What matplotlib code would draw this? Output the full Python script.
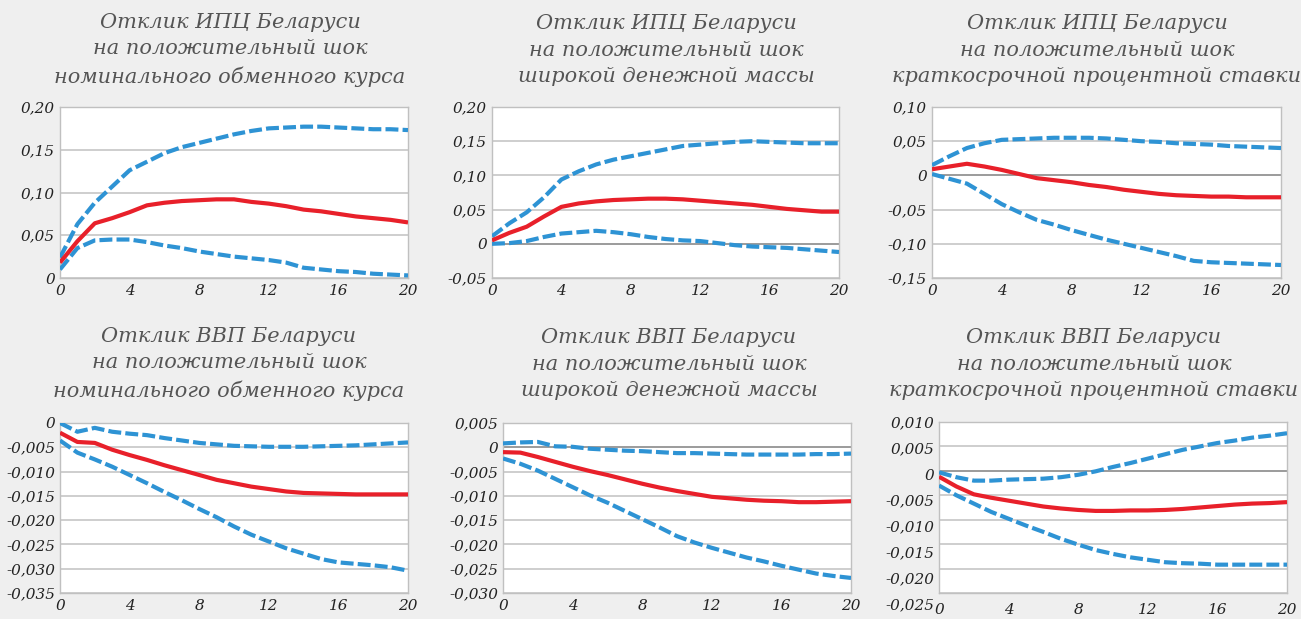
import matplotlib
matplotlib.use("Agg")
import matplotlib.pyplot as plt
from matplotlib.transforms import ScaledTranslation


W, H = 1301, 619

QUARTERS = list(range(21))

# ИПЦ: шок номинального обменного курса
cpi_fx_mid = [0.018, 0.043, 0.064, 0.070, 0.077, 0.085, 0.088, 0.090, 0.091, 0.092, 0.092,
              0.089, 0.087, 0.084, 0.080, 0.078, 0.075, 0.072, 0.070, 0.068, 0.065]
cpi_fx_hi = [0.024, 0.063, 0.088, 0.107, 0.126, 0.136, 0.146, 0.153, 0.158, 0.163, 0.168,
             0.172, 0.175, 0.176, 0.177, 0.177, 0.176, 0.175, 0.174, 0.174, 0.173]
cpi_fx_lo = [0.010, 0.035, 0.044, 0.045, 0.045, 0.042, 0.038, 0.035, 0.031, 0.028, 0.025,
             0.023, 0.021, 0.018, 0.012, 0.010, 0.008, 0.007, 0.005, 0.004, 0.003]

# ИПЦ: шок широкой денежной массы
cpi_m_mid = [0.005, 0.016, 0.025, 0.040, 0.054, 0.059, 0.062, 0.064, 0.065, 0.066, 0.066,
             0.065, 0.063, 0.061, 0.059, 0.057, 0.054, 0.051, 0.049, 0.047, 0.047]
cpi_m_hi = [0.011, 0.030, 0.046, 0.068, 0.094, 0.106, 0.116, 0.123, 0.128, 0.133, 0.138,
            0.143, 0.145, 0.147, 0.149, 0.150, 0.149, 0.148, 0.147, 0.147, 0.147]
cpi_m_lo = [0.000, 0.001, 0.004, 0.010, 0.015, 0.017, 0.019, 0.017, 0.014, 0.010, 0.007,
            0.005, 0.004, 0.001, -0.002, -0.004, -0.005, -0.006, -0.008, -0.010, -0.012]

# ИПЦ: шок краткосрочной процентной ставки
cpi_r_mid = [0.009, 0.013, 0.017, 0.013, 0.008, 0.002, -0.004, -0.007, -0.010, -0.014, -0.017,
             -0.021, -0.024, -0.027, -0.029, -0.030, -0.031, -0.031, -0.032, -0.032, -0.032]
cpi_r_hi = [0.015, 0.028, 0.040, 0.047, 0.052, 0.053, 0.054, 0.055, 0.055, 0.055, 0.054,
            0.052, 0.050, 0.049, 0.047, 0.046, 0.045, 0.043, 0.042, 0.041, 0.040]
cpi_r_lo = [0.002, -0.005, -0.012, -0.027, -0.042, -0.054, -0.065, -0.072, -0.080, -0.087, -0.094,
            -0.100, -0.106, -0.112, -0.118, -0.125, -0.127, -0.128, -0.129, -0.130, -0.131]

# ВВП: шок номинального обменного курса
gdp_fx_mid = [-0.0020, -0.0039, -0.0041, -0.0055, -0.0066, -0.0076, -0.0087, -0.0097, -0.0107,
              -0.0117, -0.0124, -0.0131, -0.0136, -0.0141, -0.0144, -0.0145, -0.0146, -0.0147,
              -0.0147, -0.0147, -0.0147]
gdp_fx_hi = [0.0000, -0.0018, -0.0010, -0.0018, -0.0022, -0.0025, -0.0031, -0.0036, -0.0041,
             -0.0044, -0.0047, -0.0048, -0.0049, -0.0049, -0.0049, -0.0048, -0.0047, -0.0046,
             -0.0044, -0.0042, -0.0040]
gdp_fx_lo = [-0.0036, -0.0061, -0.0075, -0.0090, -0.0107, -0.0124, -0.0142, -0.0159, -0.0177,
             -0.0194, -0.0213, -0.0230, -0.0244, -0.0258, -0.0269, -0.0280, -0.0287, -0.0290,
             -0.0293, -0.0297, -0.0304]

# ВВП: шок широкой денежной массы
gdp_m_mid = [-0.0010, -0.0011, -0.0020, -0.0030, -0.0040, -0.0049, -0.0057, -0.0066, -0.0075,
             -0.0083, -0.0090, -0.0096, -0.0102, -0.0105, -0.0108, -0.0110, -0.0111, -0.0113,
             -0.0113, -0.0112, -0.0111]
gdp_m_hi = [0.0008, 0.0010, 0.0011, 0.0002, 0.0001, -0.0003, -0.0005, -0.0007, -0.0008, -0.0010,
            -0.0012, -0.0012, -0.0013, -0.0014, -0.0015, -0.0015, -0.0015, -0.0015, -0.0014,
            -0.0014, -0.0013]
gdp_m_lo = [-0.0023, -0.0034, -0.0048, -0.0065, -0.0082, -0.0099, -0.0114, -0.0131, -0.0148,
            -0.0165, -0.0183, -0.0196, -0.0207, -0.0217, -0.0227, -0.0235, -0.0244, -0.0252,
            -0.0260, -0.0265, -0.0269]

# ВВП: шок краткосрочной процентной ставки
gdp_r_mid = [-0.0012, -0.0032, -0.0048, -0.0055, -0.0061, -0.0067, -0.0073, -0.0077, -0.0080,
             -0.0082, -0.0082, -0.0081, -0.0081, -0.0080, -0.0078, -0.0075, -0.0072, -0.0069,
             -0.0067, -0.0066, -0.0064]
gdp_r_hi = [-0.0003, -0.0013, -0.0020, -0.0020, -0.0018, -0.0017, -0.0016, -0.0013, -0.0008,
            -0.0001, 0.0008, 0.0016, 0.0025, 0.0034, 0.0043, 0.0050, 0.0057, 0.0062, 0.0068,
            0.0072, 0.0077]
gdp_r_lo = [-0.0030, -0.0050, -0.0067, -0.0084, -0.0098, -0.0112, -0.0125, -0.0139, -0.0151,
            -0.0162, -0.0170, -0.0177, -0.0182, -0.0187, -0.0189, -0.0190, -0.0192, -0.0192,
            -0.0192, -0.0192, -0.0192]

TITLES = [
    "Отклик ИПЦ Беларуси\nна положительный шок\nноминального обменного курса",
    "Отклик ИПЦ Беларуси\nна положительный шок\nширокой денежной массы",
    "Отклик ИПЦ Беларуси\nна положительный шок\nкраткосрочной процентной ставки",
    "Отклик ВВП Беларуси\nна положительный шок\nноминального обменного курса",
    "Отклик ВВП Беларуси\nна положительный шок\nширокой денежной массы",
    "Отклик ВВП Беларуси\nна положительный шок\nкраткосрочной процентной ставки",
]

SERIES = [
    (cpi_fx_mid, cpi_fx_hi, cpi_fx_lo),
    (cpi_m_mid, cpi_m_hi, cpi_m_lo),
    (cpi_r_mid, cpi_r_hi, cpi_r_lo),
    (gdp_fx_mid, gdp_fx_hi, gdp_fx_lo),
    (gdp_m_mid, gdp_m_hi, gdp_m_lo),
    (gdp_r_mid, gdp_r_hi, gdp_r_lo),
]

Y_TICKS = [
    [0, 0.05, 0.10, 0.15, 0.20],
    [-0.05, 0, 0.05, 0.10, 0.15, 0.20],
    [-0.15, -0.10, -0.05, 0, 0.05, 0.10],
    [-0.035, -0.030, -0.025, -0.020, -0.015, -0.010, -0.005, 0],
    [-0.030, -0.025, -0.020, -0.015, -0.010, -0.005, 0, 0.005],
    [-0.025, -0.020, -0.015, -0.010, -0.005, 0, 0.005, 0.010],
]
Y_DECIMALS = [2, 2, 2, 3, 3, 3]
X_TICKS = [0, 4, 8, 12, 16, 20]

# plot boxes in pixels: left, top, right, bottom
BOXES = [
    (60, 107, 408, 278),
    (492, 107, 839, 278),
    (932, 107, 1281, 278),
    (60, 423, 408, 593),
    (503, 423, 851, 593),
    (939, 422, 1287, 593),
]
TITLE_POS = [(230, 50), (666, 50), (1097, 50), (229, 364), (669, 364), (1094, 364)]

BG = "#efefef"
RED = "#e8202a"
BLUE = "#2e93d4"
GRID = "#c6c6c6"
ZERO = "#8a8a8a"
FONT = "DejaVu Serif"


def fmt(v, nd):
    if abs(v) < 1e-12:
        return "0"
    return f"{v:.{nd}f}".replace(".", ",")


fig = plt.figure(figsize=(W / 100, H / 100), dpi=100, facecolor=BG)

for i in range(6):
    l, t, r, b = BOXES[i]
    ax = fig.add_axes([l / W, 1 - b / H, (r - l) / W, (b - t) / H])
    ax.set_facecolor("white")
    mid, hi, lo = SERIES[i]
    yt = Y_TICKS[i]

    for v in yt:
        if abs(v) < 1e-12 and v not in (yt[0], yt[-1]):
            ax.axhline(v, color=ZERO, linewidth=1.2, zorder=1)
        else:
            ax.axhline(v, color=GRID, linewidth=1.2, zorder=1)

    for band in (hi, lo):
        ax.plot(QUARTERS, band, color=BLUE, linewidth=3.0, dashes=(3.1, 1.0),
                dash_capstyle="butt", solid_joinstyle="round", zorder=3)
    ax.plot(QUARTERS, mid, color=RED, linewidth=3.0, solid_joinstyle="round",
            solid_capstyle="butt", zorder=4)

    ax.set_xlim(0, 20)
    ax.set_ylim(yt[0], yt[-1])
    ax.set_xticks(X_TICKS)
    ax.set_yticks(yt)
    ax.set_yticklabels([fmt(v, Y_DECIMALS[i]) for v in yt])
    ax.tick_params(length=0, labelsize=11, colors="#222222",
                   pad=4 if i != 5 else 7, axis="x")
    ax.tick_params(length=0, labelsize=11, colors="#222222", pad=3.5, axis="y")
    for lab in ax.get_xticklabels() + ax.get_yticklabels():
        lab.set_fontfamily(FONT)
        lab.set_fontstyle("italic")
    for s in ax.spines.values():
        s.set_color("#c0c0c0")
        s.set_linewidth(1.0)

    if i == 5:
        # labels in this panel drift a little below their gridlines
        n = len(yt)
        for k, lab in enumerate(ax.get_yticklabels()):
            shift = (n - 1 - k) * 1.6 / 100
            lab.set_transform(lab.get_transform() +
                              ScaledTranslation(0, -shift, fig.dpi_scale_trans))

    tx, ty = TITLE_POS[i]
    fig.text(tx / W, 1 - ty / H, TITLES[i], ha="center", va="center",
             fontsize=15, fontfamily=FONT, fontstyle="italic", color="#555555",
             linespacing=1.49)

fig.savefig("out.png", dpi=100, facecolor=BG)
